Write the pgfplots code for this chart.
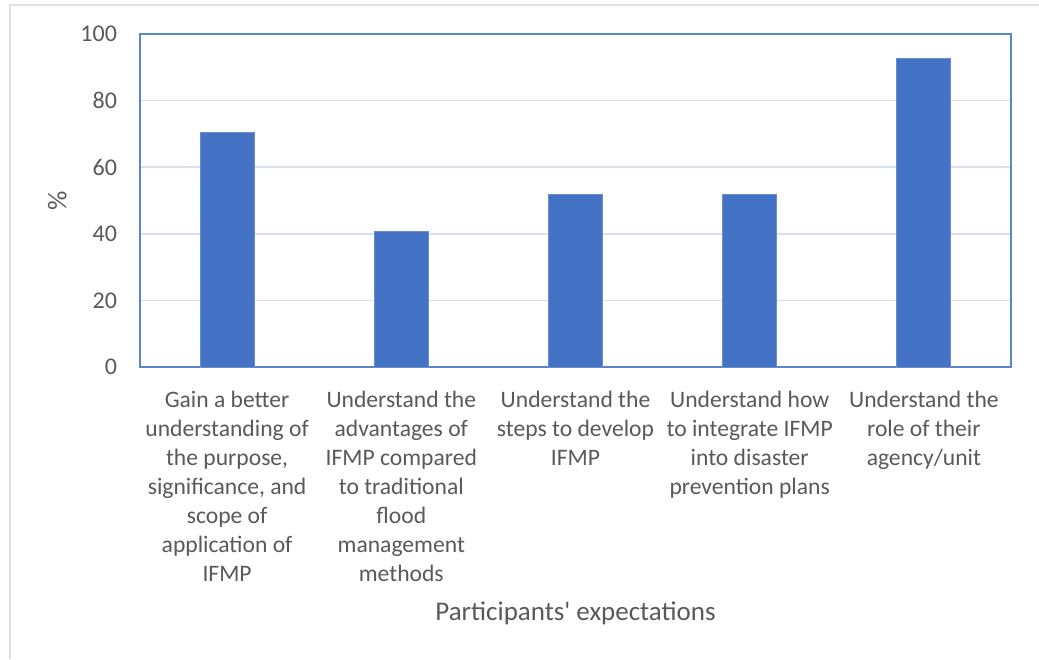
\documentclass[border=0pt]{standalone}
\usepackage{pgfplots}
\pgfplotsset{compat=1.18}
\usepackage{fontspec}
\setmainfont{Carlito}
\definecolor{barblue}{HTML}{4472C4}
\definecolor{framebl}{HTML}{5B84CF}
\definecolor{gridbl}{HTML}{D6E0F2}
\definecolor{txtgray}{HTML}{595959}
\begin{document}
\begin{tikzpicture}
\path[use as bounding box] (0pt,0pt) rectangle (519.5pt,329.5pt);
\draw[black!12, line width=0.6pt] (5pt,0pt) -- (5pt,327pt) -- (519.5pt,327pt);
\begin{axis}[
  at={(70pt,146pt)}, anchor=south west,
  scale only axis, width=435.5pt, height=166.5pt,
  ymin=0, ymax=100, ytick={0,20,...,100},
  xmin=-0.5, xmax=4.5, xtick={0,1,2,3,4},
  xticklabels={
    {Gain a better\\understanding of\\the purpose,\\significance, and\\scope of\\application of\\IFMP},
    {Understand the\\advantages of\\IFMP compared\\to traditional\\flood\\management\\methods},
    {Understand the\\steps to develop\\IFMP},
    {Understand how\\to integrate IFMP\\into disaster\\prevention plans},
    {Understand the\\role of their\\agency/unit}},
  xticklabel style={align=center, font=\fontsize{11.8}{14.5}\selectfont, text=txtgray, yshift=-8.5pt},
  yticklabel style={font=\fontsize{12}{14}\selectfont, text=txtgray, xshift=-8pt},
  /pgf/number format/assume math mode=true,
  major tick length=0pt,
  ymajorgrids, grid style={gridbl, line width=0.8pt},
  axis line style={framebl, line width=0.9pt},
  ylabel={\%}, ylabel style={font=\fontsize{13.5}{15}\selectfont, text=txtgray, yshift=0pt},
  xlabel={Participants\textquotesingle\ expectations}, xlabel style={font=\fontsize{13.5}{15}\selectfont, text=txtgray, yshift=-3pt},
  ybar, bar width=27pt,
]
\addplot[fill=barblue, draw=barblue!80!white, line width=0.4pt] coordinates {(0,70.4) (1,40.7) (2,51.9) (3,51.9) (4,92.6)};
\end{axis}
\end{tikzpicture}
\end{document}
